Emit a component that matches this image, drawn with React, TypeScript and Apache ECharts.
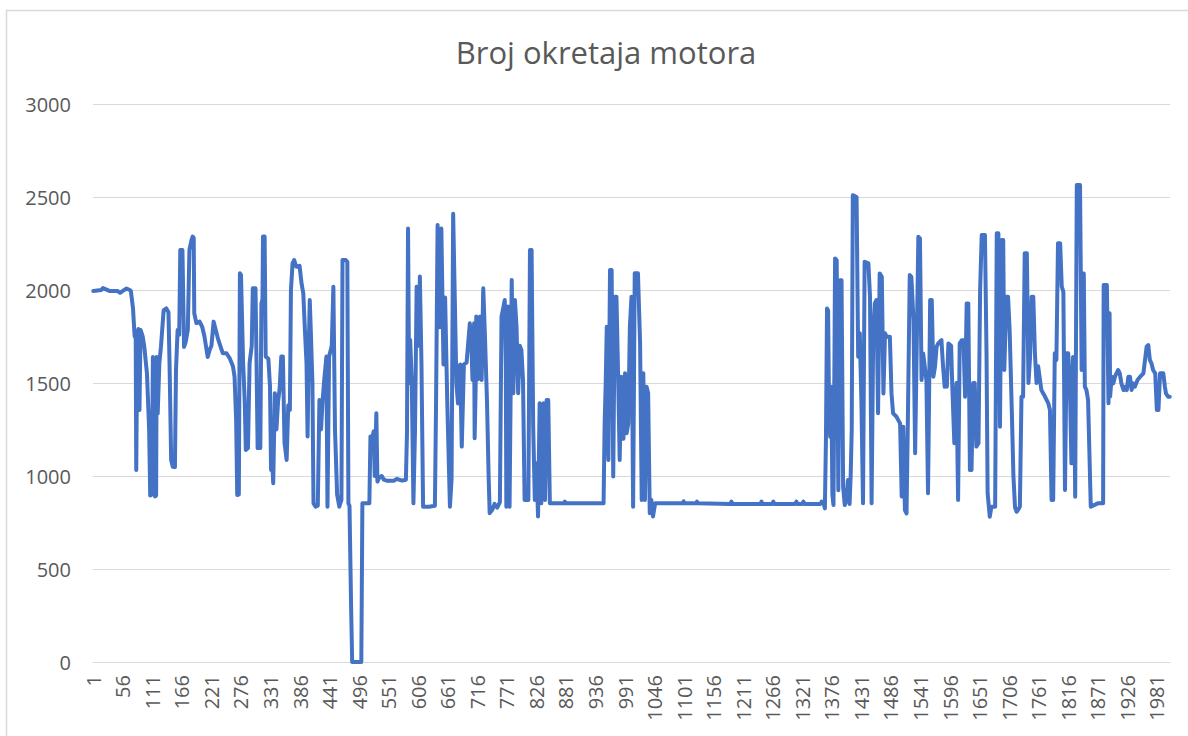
import { useEffect, useRef } from "react";
import * as echarts from "echarts";

const TITLE = "Broj okretaja motora";
const CATEGORY_COUNT = 2005;
const categories: string[] = Array.from({ length: CATEGORY_COUNT }, (_, i) => String(i + 1));
const Y_MIN = 0;
const Y_MAX = 3000;
const Y_STEP = 500;

// [sample index, rpm] vertices, region by region
const segStart: [number, number][] = [
  [0, 1995], [15, 2000], [18, 2010], [30, 1995], [45, 1995], [50, 1985], [55, 1995], [62, 2008], [68, 2000],
  [70, 1995], [74, 1900], [77, 1750], [79, 1750], [80, 1032], [82, 1760], [84, 1790], [86, 1355], [88, 1785],
  [92, 1750], [95, 1695], [100, 1550], [104, 1250], [106, 895], [109, 900], [111, 1640], [113, 1400], [115, 890],
  [117, 895], [118, 1640], [120, 1337], [123, 1606], [126, 1695], [131, 1890], [136, 1901], [140, 1880],
  [142, 1606], [145, 1086], [148, 1050], [152, 1048], [154, 1570], [157, 1785], [160, 1760], [162, 2215],
  [166, 2215], [169, 1694], [172, 1720], [176, 1785], [179, 2215], [183, 2270], [185, 2287], [187, 2280],
  [188, 1875], [192, 1822], [198, 1830], [203, 1800], [207, 1750], [213, 1640], [217, 1680], [220, 1700],
  [224, 1830], [228, 1785], [232, 1740], [235, 1713], [241, 1660],
];

const segEarly: [number, number][] = [
  [248, 1660], [254, 1633], [260, 1590], [263, 1534], [266, 1300], [268, 898], [271, 900], [273, 2090],
  [275, 2080], [279, 1606], [282, 1400], [284, 1140], [288, 1150], [291, 1606], [295, 1700], [297, 2009],
  [302, 2009], [304, 1600], [306, 1150], [311, 1150], [313, 1928], [315, 1950], [316, 2287], [319, 2287],
  [321, 1642], [326, 1630], [329, 1480], [331, 1032], [333, 1100], [335, 961], [338, 1445], [341, 1250],
  [344, 1400], [347, 1470], [350, 1642], [353, 1642], [356, 1180], [360, 1086], [363, 1380], [366, 1355],
  [368, 2000], [371, 2143], [374, 2161], [378, 2125], [384, 2130], [388, 2030], [391, 1982], [394, 1785],
  [397, 1606], [399, 1212], [401, 1660], [403, 1946], [405, 1780], [408, 1500], [410, 853], [414, 835],
  [418, 840], [421, 1409], [424, 1250], [427, 1409], [430, 1516], [434, 1642], [436, 835], [439, 1642],
  [444, 1700], [447, 2018], [450, 1247], [454, 900], [458, 835], [462, 871], [464, 2161], [470, 2161],
];

const segDrop: [number, number][] = [
  [473, 2150], [475, 853], [477, 840], [480, 300], [482, 0], [499, 0], [501, 853], [514, 853], [516, 1212],
  [519, 1200], [522, 1240], [524, 1000], [527, 1337], [529, 970], [532, 990], [537, 1000], [541, 980],
  [546, 975], [560, 975], [565, 985], [575, 975], [582, 980], [584, 1229], [586, 2330], [588, 1500],
  [590, 1731], [593, 1500], [596, 853], [599, 1250], [602, 2018], [606, 1700], [608, 2072], [611, 1600],
  [614, 835], [625, 835], [636, 840], [638, 1350], [641, 2350], [645, 1800], [648, 2330], [652, 1600],
  [655, 1960], [659, 1400], [664, 835], [667, 980], [670, 2410], [673, 1960], [676, 1500], [679, 1390],
  [683, 1600], [686, 1158], [690, 1600], [695, 1610],
];

const segMid: [number, number][] = [
  [701, 1821], [704, 1700], [706, 1516], [709, 1821], [710, 1203], [712, 1500], [713, 1857], [716, 1520],
  [720, 1857], [723, 1516], [726, 2009], [729, 1767], [733, 1400], [736, 1000], [738, 800], [743, 820],
  [747, 850], [752, 830], [757, 860], [760, 1857], [763, 1900], [766, 1946], [768, 1600], [769, 835],
  [772, 1911], [775, 835], [779, 2054], [782, 1445], [785, 1946], [788, 1800], [791, 1445], [794, 1700],
  [797, 1678], [800, 1516], [803, 871], [810, 871], [813, 2215], [816, 2215], [819, 1265], [822, 871],
  [825, 1068], [828, 782], [831, 1391], [834, 853], [838, 1391], [841, 871], [844, 1409], [847, 1409],
  [850, 853], [876, 853], [878, 862], [880, 853],
];

const segBurst: [number, number][] = [
  [920, 853], [950, 853], [952, 1283], [954, 1500], [956, 1803], [958, 1200], [959, 1086], [962, 2108],
  [965, 2108], [968, 997], [971, 1964], [974, 1964], [977, 1552], [980, 1086], [983, 1534], [987, 1200],
  [990, 1552], [993, 1230], [996, 1283], [999, 1803], [1002, 1964], [1005, 835], [1008, 2090], [1014, 2090],
  [1018, 1713], [1021, 871], [1024, 1552], [1027, 871], [1030, 1480], [1033, 1445], [1036, 800], [1039, 871],
  [1042, 782], [1046, 853], [1098, 853], [1099, 864], [1100, 853], [1123, 853], [1124, 862], [1125, 853],
];

const segIdle: [number, number][] = [
  [1186, 850], [1188, 862], [1190, 850], [1242, 850], [1244, 862], [1246, 850], [1264, 850], [1266, 862],
  [1268, 850], [1307, 850], [1309, 862], [1311, 850], [1320, 850], [1322, 862], [1324, 850], [1354, 850],
  [1356, 862], [1360, 850],
];

const segLate: [number, number][] = [
  [1362, 826], [1364, 1200], [1366, 1901], [1368, 1890], [1370, 1300], [1372, 1211], [1374, 1480], [1376, 900],
  [1378, 844], [1380, 1700], [1381, 2170], [1384, 2160], [1387, 924], [1390, 2053], [1393, 2053], [1396, 940],
  [1399, 844], [1402, 870], [1405, 978], [1408, 850], [1410, 1000], [1412, 1250], [1414, 2510], [1421, 2500],
  [1424, 1641], [1427, 1767], [1430, 1400], [1433, 853], [1436, 2152], [1443, 2143], [1446, 1964], [1449, 853],
  [1452, 1767], [1455, 1928], [1458, 1946], [1461, 1337], [1464, 2089], [1468, 2071], [1471, 1444],
  [1474, 1767], [1477, 1749], [1483, 1749], [1486, 1444], [1489, 1337], [1495, 1320], [1502, 1283],
  [1505, 890], [1508, 1265], [1511, 817], [1514, 799], [1517, 1408], [1520, 2080], [1523, 2071], [1527, 1838],
  [1530, 1122], [1533, 1695], [1536, 2286], [1539, 2277], [1542, 1516], [1545, 1659], [1551, 1516],
  [1554, 907], [1558, 1946], [1561, 1946], [1564, 1534], [1567, 1588], [1570, 1695], [1573, 1713],
  [1579, 1731], [1582, 1588], [1585, 1480],
];

const segFinal: [number, number][] = [
  [1586, 1534], [1589, 1480], [1592, 1713], [1597, 1700], [1599, 1500], [1603, 1176], [1605, 1300],
  [1607, 1500], [1610, 871], [1613, 1713], [1617, 1730], [1620, 1730], [1623, 1426], [1626, 1928],
  [1629, 1928], [1632, 1032], [1635, 1032], [1638, 1500], [1641, 1500], [1644, 1158], [1648, 1176],
  [1651, 2000], [1654, 2296], [1660, 2296], [1663, 1640], [1665, 907], [1669, 781], [1672, 835], [1679, 835],
  [1682, 2305], [1685, 2305], [1688, 1265], [1691, 2269], [1694, 2269], [1696, 1570], [1700, 1964],
  [1703, 1964], [1706, 1780], [1710, 1350], [1713, 1000], [1716, 830], [1719, 808], [1722, 820], [1725, 835],
  [1728, 1426], [1731, 1426], [1734, 2197], [1738, 2197], [1741, 1500], [1744, 1641], [1747, 1964],
  [1750, 1964], [1753, 1660], [1756, 1500], [1759, 1590], [1765, 1462], [1772, 1426], [1778, 1390],
  [1781, 1355], [1784, 871], [1787, 871], [1790, 1660], [1793, 1624], [1796, 2251],
];

const segEnd: [number, number][] = [
  [1800, 2251], [1803, 2018], [1806, 1990], [1809, 925], [1812, 1660], [1815, 1660], [1818, 1500],
  [1821, 1068], [1824, 1640], [1826, 1560], [1828, 889], [1831, 2564], [1837, 2564], [1840, 1570],
  [1842, 2089], [1844, 2089], [1846, 1480], [1849, 1462], [1852, 1408], [1857, 835], [1870, 853],
  [1880, 853], [1881, 2027], [1887, 2027], [1890, 1391], [1892, 1875], [1893, 1427], [1896, 1534],
  [1899, 1498], [1902, 1534], [1908, 1570], [1911, 1552], [1914, 1498], [1918, 1462], [1921, 1480],
  [1924, 1462], [1927, 1534], [1930, 1534], [1933, 1462], [1936, 1498], [1939, 1480], [1944, 1516],
  [1949, 1534], [1955, 1552], [1961, 1695], [1964, 1704], [1967, 1624], [1970, 1606], [1973, 1570],
  [1977, 1552], [1980, 1355], [1983, 1355], [1986, 1552], [1989, 1552], [1992, 1552], [1995, 1480],
  [1997, 1444], [2001, 1426], [2004, 1426],
];

const rpmSeries: [number, number][] = [
  ...segStart, ...segEarly, ...segDrop, ...segMid, ...segBurst, ...segIdle, ...segLate, ...segFinal, ...segEnd,
];

const FONT = '"Segoe UI", "Open Sans", "Noto Sans", sans-serif';
const TEXT = "#595959";
const GRID = "#d9d9d9";

export default function App() {
  const ref = useRef<HTMLDivElement>(null);
  useEffect(() => {
    if (!ref.current) return;
    const chart = echarts.init(ref.current, undefined, { renderer: "svg" });
    chart.setOption({
      animation: false,
      backgroundColor: "#ffffff",
      title: {
        text: TITLE,
        left: 601,
        textAlign: "center",
        top: 31,
        textStyle: { fontFamily: FONT, fontSize: 31, fontWeight: "normal", color: TEXT },
      },
      graphic: [
        {
          type: "rect",
          shape: { x: 6.5, y: 10.5, width: 1200, height: 760 },
          style: { fill: "none", stroke: GRID, lineWidth: 1.5 },
          silent: true,
        },
      ],
      grid: { left: 93, right: 18, top: 104, bottom: 74, containLabel: false },
      xAxis: {
        type: "category",
        data: categories,
        boundaryGap: true,
        axisLine: { show: true, lineStyle: { color: GRID, width: 1 } },
        axisTick: { show: false },
        splitLine: { show: false },
        axisLabel: {
          interval: 54,
          rotate: 90,
          margin: 13,
          fontFamily: FONT,
          fontSize: 20,
          color: TEXT,
        },
      },
      yAxis: {
        type: "value",
        min: Y_MIN,
        max: Y_MAX,
        interval: Y_STEP,
        axisLine: { show: false },
        axisTick: { show: false },
        splitLine: { show: true, lineStyle: { color: GRID, width: 1 } },
        axisLabel: {
          margin: 22,
          fontFamily: FONT,
          fontSize: 20,
          color: TEXT,
          formatter: (v: number) => String(v),
        },
      },
      series: [
        {
          type: "line",
          data: rpmSeries,
          showSymbol: false,
          symbol: "none",
          lineStyle: { color: "#4472C4", width: 4, cap: "round", join: "round" },
          itemStyle: { color: "#4472C4" },
        },
      ],
    });
    return () => chart.dispose();
  }, []);
  return (
    <div
      ref={ref}
      style={{ position: "absolute", left: 0, top: 0, width: 1188, height: 736, background: "#fff" }}
    />
  );
}
